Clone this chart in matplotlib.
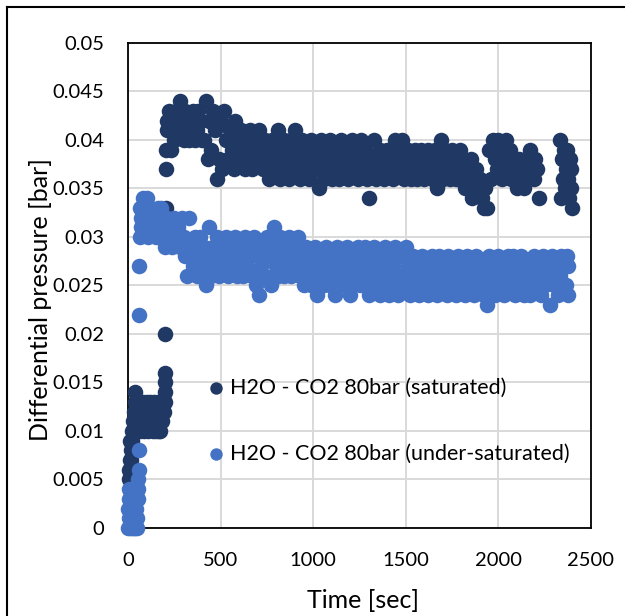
import matplotlib
matplotlib.use("Agg")
from matplotlib import pyplot as plt
from matplotlib.lines import Line2D
from matplotlib.ticker import FuncFormatter
import numpy as np

plt.rcParams['font.family'] = ['Lato', 'DejaVu Sans']

# differential pressure values are written in mbar (0.001 bar) and converted below

# H2O - CO2 80bar (saturated): start-up, plateau and ramp
sat_t_start = [6, 8, 10, 11, 12, 13, 14, 15, 16, 18, 20, 22, 25, 28, 31, 34, 37, 40, 43,
               45, 50, 55, 60, 65, 70, 75, 80, 85, 90, 95, 100, 105, 110, 115, 120,
               125, 130, 135, 140, 145, 150, 155, 160, 165, 170, 175, 180, 185, 190,
               196, 198, 199, 200, 201, 202, 203, 204, 206, 208]
sat_mbar_start = [5, 6, 4, 7, 9, 5, 8, 6, 9, 7, 10, 9, 11, 10, 12, 11, 13, 14, 12,
                  10, 12, 11, 13, 10, 12, 11, 13, 10, 12, 11, 13, 12, 10, 11, 13,
                  12, 11, 10, 13, 12, 10, 11, 13, 10, 12, 10, 13, 11, 12,
                  12, 13, 14, 15, 16, 20, 33, 37, 39, 42]
# saturated, every 10 s from 210 s to 2220 s
sat_mbar_main = [
    41, 43, 39, 42, 40, 43, 41, 44, 42, 40,   # 210-300
    43, 41, 40, 42, 43, 40, 41, 43, 42, 40,   # 310-400
    40, 44, 38, 42, 39, 43, 41, 36, 38, 42,   # 410-500
    37, 43, 40, 38, 41, 39, 37, 42, 40, 38,   # 510-600
    41, 39, 37, 40, 38, 41, 37, 39, 40, 38,   # 610-700
    41, 38, 37, 40, 39, 36, 38, 40, 37, 39,   # 710-800
    41, 36, 38, 40, 37, 39, 36, 40, 38, 41,   # 810-900
    37, 39, 36, 40, 38, 37, 39, 36, 40, 38,   # 910-1000
    37, 39, 35, 40, 38, 36, 39, 37, 40, 36,   # 1010-1100
    38, 37, 39, 36, 40, 38, 37, 39, 36, 38,   # 1110-1200
    40, 37, 39, 36, 38, 40, 37, 39, 36, 34,   # 1210-1300
    38, 37, 40, 36, 38, 39, 37, 36, 38, 39,   # 1310-1400
    37, 39, 36, 40, 38, 37, 39, 40, 36, 38,   # 1410-1500
    39, 37, 36, 38, 39, 36, 37, 39, 38, 36,   # 1510-1600
    37, 39, 38, 36, 37, 39, 35, 38, 40, 36,   # 1610-1700
    39, 37, 38, 36, 39, 37, 36, 38, 39, 37,   # 1710-1800
    38, 35, 37, 36, 38, 34, 36, 37, 35, 36,   # 1810-1900
    34, 33, 35, 33, 39, 36, 40, 38, 37, 40,   # 1910-2000
    39, 36, 38, 40, 37, 39, 36, 38, 37, 35,   # 2010-2100
    38, 36, 37, 35, 38, 36, 39, 37, 36, 38,   # 2110-2200
    37, 34,                                   # 2210-2220
]
sat_t_end = [2335, 2340, 2345, 2350, 2355, 2360, 2365, 2370, 2375, 2380, 2385, 2390, 2393, 2396]
sat_mbar_end = [40, 34, 38, 36, 39, 35, 37, 39, 36, 34, 38, 35, 37, 33]

# H2O - CO2 80bar (under-saturated)
und_t_start = [0, 2, 4, 6, 8, 10, 12, 14, 16, 18, 20, 22, 24, 26, 28, 30, 32, 34, 36, 38,
               40, 42, 44, 46, 48, 50, 52, 54, 56, 58, 60, 61, 62, 64, 66, 68]
und_mbar_start = [0, 2, 4, 1, 3, 0, 2, 4, 1, 3, 0, 2, 4, 1, 3, 0, 2, 4, 1, 3,
                  0, 2, 4, 1, 3, 0, 4, 5, 3, 6, 8, 22, 27, 30, 33, 31]
# under-saturated, every 10 s from 70 s to 2360 s
und_mbar_main = [
    32, 34, 31, 34, 30, 33, 31, 32, 30, 33,   # 70-160
    30, 33, 31, 29, 32, 30, 31, 29, 32, 30,   # 170-260
    31, 29, 32, 30, 28, 26, 32, 29, 27, 30,   # 270-360
    26, 28, 30, 27, 29, 25, 28, 31, 26, 29,   # 370-460
    27, 30, 26, 28, 29, 27, 30, 26, 28, 29,   # 470-560
    27, 30, 26, 28, 29, 26, 30, 27, 28, 29,   # 570-660
    26, 30, 25, 28, 24, 27, 29, 26, 30, 28,   # 670-760
    25, 29, 31, 27, 26, 30, 28, 26, 29, 27,   # 770-860
    30, 26, 28, 29, 27, 30, 26, 28, 25, 29,   # 870-960
    27, 26, 25, 28, 29, 24, 26, 27, 28, 25,   # 970-1060
    29, 27, 25, 26, 28, 24, 29, 27, 25, 26,   # 1070-1160
    28, 29, 25, 24, 27, 26, 28, 29, 25, 27,   # 1170-1260
    26, 29, 28, 24, 25, 27, 29, 26, 28, 24,   # 1270-1360
    27, 25, 29, 26, 24, 28, 27, 29, 25, 24,   # 1370-1460
    26, 28, 25, 29, 27, 24, 26, 28, 25, 27,   # 1470-1560
    24, 26, 28, 25, 27, 24, 26, 28, 25, 27,   # 1570-1660
    24, 28, 26, 25, 27, 24, 28, 26, 25, 27,   # 1670-1760
    24, 28, 26, 25, 27, 24, 28, 26, 25, 27,   # 1770-1860
    24, 28, 26, 25, 27, 24, 26, 23, 28, 25,   # 1870-1960
    27, 24, 26, 28, 25, 26, 24, 27, 28, 25,   # 1970-2060
    26, 28, 24, 27, 25, 28, 26, 24, 25, 27,   # 2070-2160
    24, 26, 28, 25, 27, 26, 24, 28, 25, 27,   # 2170-2260
    26, 23, 28, 25, 27, 24, 26, 28, 25, 27,   # 2270-2360
]
und_t_end = [2366, 2370, 2374, 2378]
und_mbar_end = [25, 28, 24, 27]

sat_t = np.concatenate([sat_t_start, np.arange(210, 2221, 10), sat_t_end])
sat_dp = np.concatenate([sat_mbar_start, sat_mbar_main, sat_mbar_end]) / 1000
und_t = np.concatenate([und_t_start, np.arange(70, 2361, 10), und_t_end])
und_dp = np.concatenate([und_mbar_start, und_mbar_main, und_mbar_end]) / 1000

fig = plt.figure(figsize=(6.25, 6.16), dpi=100)
ax = fig.add_axes([0.2048, 0.1429, 0.7408, 0.7873])

ax.scatter(sat_t, sat_dp, s=125, color='#1F3864', linewidths=0, clip_on=False, zorder=3,
           label="H2O - CO2 80bar (saturated)")
ax.scatter(und_t, und_dp, s=125, color='#4472C4', linewidths=0, clip_on=False, zorder=4,
           label="H2O - CO2 80bar (under-saturated)")

ax.set_xlim(0, 2500)
ax.set_ylim(0, 0.05)
ax.set_xticks(np.arange(0, 2501, 500))
ax.set_yticks(np.arange(0, 0.0501, 0.005))
ax.yaxis.set_major_formatter(FuncFormatter(lambda v, p: "{:g}".format(round(v, 3))))
ax.grid(True, color='#D9D9D9', linewidth=1.4)
ax.set_axisbelow(True)
for s in ax.spines.values():
    s.set_linewidth(1.3)
    s.set_color('black')
ax.tick_params(length=0, labelsize=14.5, pad=17)

ax.set_xlabel("Time [sec]", fontsize=18)
ax.set_ylabel("Differential pressure [bar]", fontsize=18)
ax.xaxis.set_label_coords(0.508, -0.15)
ax.yaxis.set_label_coords(-0.188, 0.47)
ax.xaxis.label.set_va('center')
ax.yaxis.label.set_va('center')

ax.legend(loc='center left', bbox_to_anchor=(0.177, 0.2206), frameon=False, fontsize=15.5,
          borderpad=0, borderaxespad=0, handlelength=0.6, handletextpad=0.35,
          labelspacing=2.15, markerscale=0.8)

# outer chart frame (only the top and left edges show)
fig.add_artist(Line2D([0.0112, 0.0112], [0, 0.9886], transform=fig.transFigure, color='black', linewidth=1.5))
fig.add_artist(Line2D([0.0112, 1], [0.9886, 0.9886], transform=fig.transFigure, color='black', linewidth=1.5))

plt.savefig("out.png", dpi=100)
